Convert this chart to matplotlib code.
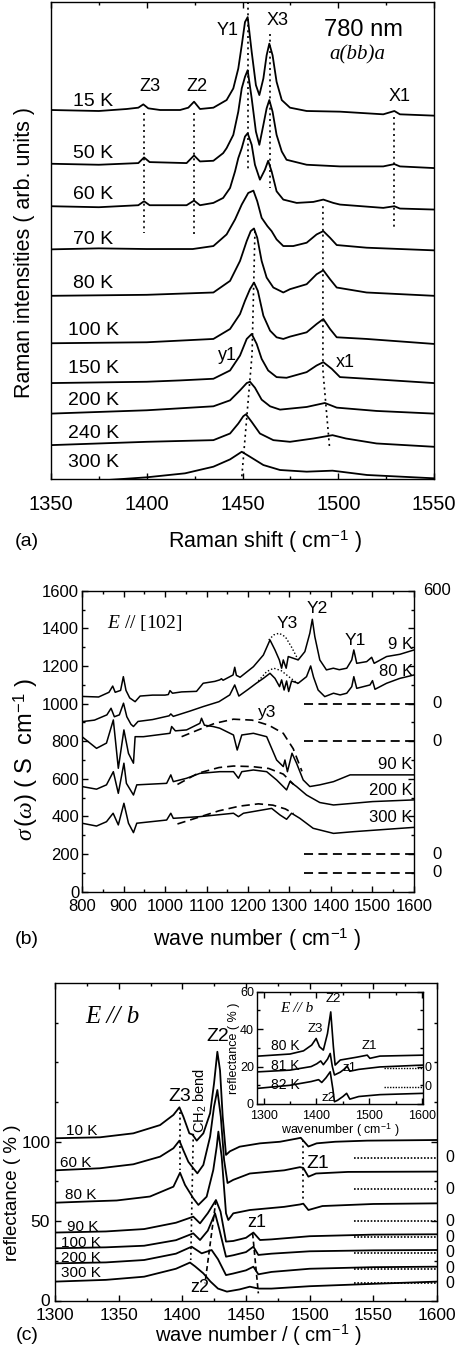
import matplotlib
matplotlib.use('Agg')
import matplotlib.pyplot as plt
from matplotlib.ticker import MultipleLocator, FixedLocator

plt.rcParams['font.family'] = ['Liberation Sans', 'DejaVu Sans']
plt.rcParams['mathtext.fontset'] = 'custom'
plt.rcParams['mathtext.rm'] = 'Liberation Sans'
plt.rcParams['mathtext.it'] = 'Liberation Serif:italic'
plt.rcParams['mathtext.bf'] = 'Liberation Sans:bold'

W, H = 456, 1357

# ---------------- (a) Raman, 780 nm, a(bb)a  (wavenumber, intensity arb.) ----------------
a_15K = [(1350, 1115), (1375, 1112), (1389.5, 1118), (1395.6, 1122), (1398.2, 1132), (1400.8, 1120),
         (1407, 1115), (1417.4, 1115), (1421.7, 1122), (1424.7, 1140), (1427.8, 1118), (1434.8, 1122),
         (1441.7, 1145), (1445.2, 1180), (1447.8, 1240), (1449.6, 1310), (1451.3, 1380), (1452.7, 1395),
         (1454.8, 1290), (1457, 1190), (1458.8, 1160), (1460.9, 1210), (1462.6, 1280), (1464, 1315),
         (1465.7, 1280), (1467.8, 1200), (1470.5, 1145), (1474.8, 1122), (1483.5, 1112), (1500.9, 1110),
         (1523.5, 1102), (1527, 1108), (1529.3, 1112), (1532.2, 1102), (1550, 1098)]
a_50K = [(1350, 953), (1375, 950), (1395.6, 955), (1398.6, 972), (1401.5, 958), (1420.8, 955),
         (1424.7, 978), (1427.8, 960), (1434.8, 962), (1439.9, 985), (1441.7, 1000), (1445.2, 1040),
         (1447.8, 1110), (1449.6, 1180), (1451.3, 1215), (1452.7, 1235), (1454.8, 1150), (1457, 1050),
         (1458.8, 1010), (1460.9, 1070), (1462.6, 1120), (1464, 1145), (1465.7, 1110), (1467.8, 1040),
         (1470.5, 990), (1473, 965), (1483.5, 950), (1500.9, 945), (1523.5, 945), (1529.3, 952),
         (1532.2, 945), (1550, 940)]
a_60K = [(1350, 825), (1375, 822), (1395.6, 828), (1398.6, 840), (1401.5, 828), (1420.8, 828),
         (1424.7, 842), (1427.8, 828), (1434.8, 835), (1439.9, 850), (1443.5, 880), (1446.1, 930),
         (1447.8, 970), (1449.6, 1000), (1451.3, 1035), (1452.7, 1045), (1454.8, 1010), (1456.5, 950),
         (1459.1, 905), (1461.7, 935), (1463.4, 962), (1465.2, 930), (1467.8, 870), (1471.3, 845),
         (1478.3, 835), (1487, 838), (1492.2, 845), (1497.4, 835), (1500.9, 830), (1523.5, 820),
         (1529.3, 825), (1532.2, 818), (1550, 815)]
a_70K = [(1350, 695), (1375, 698), (1400, 696), (1424, 696), (1434.8, 705), (1441.7, 740),
         (1446.1, 785), (1449.6, 830), (1453, 865), (1455.7, 872), (1457.7, 840), (1460, 790),
         (1463, 765), (1465.2, 750), (1467.8, 725), (1471.3, 705), (1476.5, 705), (1483.5, 715),
         (1488.7, 740), (1492.2, 750), (1495.7, 730), (1499.2, 708), (1514.8, 700), (1550, 692)]
a_80K = [(1350, 555), (1400, 558), (1434.8, 565), (1443.5, 600), (1448.7, 660), (1452.2, 720),
         (1454.3, 750), (1456, 758), (1457.7, 730), (1460, 660), (1462.6, 610), (1466.1, 580),
         (1469.6, 570), (1471.3, 565), (1474.8, 575), (1483.5, 590), (1488.7, 620), (1492.2, 632),
         (1495.7, 605), (1499.2, 580), (1514.8, 565), (1550, 555)]
a_100K = [(1350, 412), (1400, 415), (1434.8, 425), (1443.5, 455), (1448.7, 500), (1451.3, 540),
          (1453.9, 575), (1456, 595), (1458, 570), (1460.9, 495), (1464.4, 450), (1467.8, 430),
          (1471.3, 425), (1474.8, 432), (1483.5, 445), (1488.7, 470), (1492.2, 485), (1495.7, 455),
          (1499.2, 430), (1514.8, 425), (1550, 410)]
a_150K = [(1350, 292), (1400, 296), (1417.4, 300), (1434.8, 305), (1443.5, 330), (1448.7, 375),
          (1452.2, 425), (1454.8, 440), (1457.4, 410), (1460, 365), (1463.4, 330), (1467.8, 310),
          (1473, 308), (1483.5, 325), (1488.7, 345), (1492.2, 355), (1496.6, 335), (1500.9, 310),
          (1515, 305), (1550, 292)]
a_200K = [(1350, 200), (1400, 210), (1434.8, 222), (1443.5, 240), (1448.7, 270), (1452.2, 292),
          (1453.9, 296), (1456.5, 278), (1460, 242), (1464.4, 222), (1469.6, 212), (1483.5, 220),
          (1493, 232), (1499.2, 218), (1520, 208), (1550, 200)]
a_240K = [(1350, 105), (1400, 115), (1434.8, 120), (1443.5, 140), (1447.8, 170), (1450.4, 192),
          (1451.8, 198), (1454.8, 175), (1459.1, 140), (1466.1, 120), (1474.8, 115), (1487, 125),
          (1497, 135), (1504, 125), (1520, 110), (1550, 100)]
a_300K = [(1350, -5), (1380, 0), (1400, 8), (1420, 20), (1434.8, 40), (1443.5, 62), (1449.6, 85),
          (1453.9, 70), (1460.9, 45), (1469.6, 30), (1483.5, 25), (1497, 28), (1515, 15), (1550, 5)]
a_spectra = [a_15K, a_50K, a_60K, a_70K, a_80K, a_100K, a_150K, a_200K, a_240K, a_300K]
a_temps = ['15 K', '50 K', '60 K', '70 K', '80 K', '100 K', '150 K', '200 K', '240 K', '300 K']
a_temp_y = [1140, 984, 861, 726, 591, 450, 336, 240, 141, 54]

# ---------------- (b) optical conductivity E // [102]  (wavenumber, S/cm) ----------------
b_9K = [(800, 1038), (840, 1035), (865, 1060), (874, 1093), (880, 1060), (893, 1070), (899.6, 1143),
        (906, 1070), (915, 1030), (928, 1010), (940, 1040), (970, 1045), (1000, 1045), (1008, 1048),
        (1012, 1069), (1018, 1055), (1040, 1062), (1076, 1065), (1092, 1108), (1120, 1118), (1132, 1126),
        (1136, 1132), (1140, 1124), (1164, 1152), (1168, 1193), (1172, 1150), (1181, 1140), (1213, 1196),
        (1237, 1258), (1253, 1338), (1265, 1285), (1275.5, 1232), (1281, 1188), (1285, 1232), (1292, 1188),
        (1297, 1250), (1309, 1241), (1321, 1232), (1337, 1276), (1349, 1374), (1355, 1448), (1361, 1356),
        (1373, 1232), (1389, 1179), (1405.6, 1188), (1420, 1180), (1438, 1188), (1450, 1232), (1455, 1285),
        (1462, 1214), (1486, 1223), (1498, 1246), (1504, 1214), (1534, 1250), (1566, 1262), (1600, 1285)]
b_80K = [(800, 904), (830, 912), (860, 940), (870, 975), (878, 930), (890, 940), (900, 1002), (908, 930),
         (918, 890), (924, 878), (935, 905), (970, 915), (1010, 935), (1014, 945), (1020, 932), (1060, 960),
         (1092, 984), (1130, 1010), (1156, 1046), (1168, 1099), (1178, 1040), (1200, 1075), (1220, 1108),
         (1237, 1134), (1253, 1161), (1265, 1134), (1276, 1090), (1281, 1126), (1287, 1072), (1293, 1120),
         (1298, 1064), (1305, 1120), (1321, 1108), (1341, 1143), (1351, 1200), (1358, 1140), (1369, 1072),
         (1385, 1037), (1406, 1055), (1422, 1046), (1438, 1055), (1450, 1090), (1455, 1143), (1462, 1081),
         (1494, 1099), (1500, 1122), (1506, 1076), (1534, 1108), (1566, 1134), (1600, 1152)]
b_90K = [(800, 824), (835, 762), (859, 790), (875.5, 913), (887.5, 656), (901, 860), (912, 735),
         (924, 683), (928, 824), (948, 824), (1012, 842), (1016, 878), (1025, 855), (1052, 860),
         (1084, 895), (1088, 922), (1095, 885), (1116, 878), (1132, 869), (1165, 833), (1174, 753),
         (1185, 833), (1213, 842), (1245, 824), (1269, 700), (1285, 665), (1289, 700), (1295, 638),
         (1306, 736), (1317, 683), (1333, 594), (1349, 559), (1373, 568), (1406, 585), (1446, 621),
         (1500, 621), (1600, 621)]
b_200K = [(800, 559), (835, 545), (859, 568), (875.5, 638), (887.5, 523), (901, 683), (907, 576),
          (924, 514), (932, 568), (1004, 576), (1014, 621), (1020, 585), (1052, 603), (1084, 629),
          (1132, 638), (1165, 638), (1177, 603), (1185, 638), (1213, 647), (1245, 638), (1269, 594),
          (1293, 541), (1301, 585), (1317, 559), (1341, 514), (1373, 474), (1406, 461), (1454, 470),
          (1500, 479), (1600, 488)]
b_300K = [(800, 364), (835, 349), (859, 372), (875, 417), (887.5, 355), (901, 470), (912, 364),
          (924, 314), (932, 364), (1004, 381), (1014, 417), (1020, 390), (1084, 399), (1165, 417),
          (1177, 399), (1189, 417), (1257, 443), (1277, 408), (1293, 385), (1305, 417), (1325, 390),
          (1357, 337), (1406, 310), (1454, 319), (1600, 342)]
b_spectra = [b_9K, b_80K, b_90K, b_200K, b_300K]
b_temps = ['9 K', '80 K', '90 K', '200 K', '300 K']
b_temp_y = [1312, 1173, 674, 536, 392]
b_fit_y3_9K = [(1250, 1338), (1262, 1365), (1275, 1374), (1290, 1355), (1305, 1300), (1321, 1232)]
b_fit_y3_80K = [(1225, 1120), (1245, 1170), (1262, 1188), (1280, 1175), (1300, 1140), (1321, 1105)]
b_fit_90K = [(1040, 824), (1080, 860), (1120, 895), (1165, 917), (1210, 912), (1250, 885), (1285, 842),
             (1309, 760), (1330, 640)]
b_fit_200K = [(1030, 570), (1080, 630), (1130, 660), (1165, 668), (1210, 665), (1250, 655), (1285, 625),
              (1310, 570)]
b_fit_300K = [(1030, 360), (1080, 395), (1130, 430), (1180, 455), (1225, 467), (1260, 460), (1290, 440),
              (1310, 415)]
b_zero_levels = [1000, 800, 200, 100]

# ---------------- (c) reflectance E // b  (wavenumber, %) ----------------
c_10K = [(1300, 102.2), (1335.3, 102.8), (1361.5, 105.3), (1382.5, 110.5), (1393, 116.9), (1397.7, 121.7),
         (1400.8, 115.8), (1405.5, 105.3), (1408, 104.5), (1411.3, 100.7), (1416.5, 105.3), (1421.8, 117.9),
         (1424.9, 136.8), (1427.5, 156.7), (1429.6, 145), (1431.7, 115.8), (1434.3, 91.7), (1437.4, 94),
         (1445, 96.9), (1461, 99), (1476.7, 100), (1490, 102), (1493, 102.5), (1499, 97), (1505.5, 99),
         (1520, 100), (1545, 100.7), (1600, 101.1)]
c_60K = [(1300, 82), (1335.3, 83.3), (1361.5, 85.8), (1382.5, 90.6), (1393, 95.9), (1397.7, 100.7),
         (1400.8, 94.6), (1404.7, 87.4), (1408.6, 83.3), (1411.8, 80.1), (1416.5, 85.4), (1421.8, 103.2),
         (1424.9, 122.1), (1427.5, 132.6), (1430.2, 115.8), (1432.8, 88.5), (1435.5, 74), (1440, 76),
         (1453, 80), (1480, 82), (1492.4, 84), (1495, 83.5), (1499, 78), (1505, 80), (1530, 81), (1600, 81.2)]
c_80K = [(1300, 61.6), (1330, 62.5), (1348.4, 63), (1374.6, 65.5), (1393, 71.7), (1398.2, 80.5),
         (1402.1, 72.8), (1408.6, 64.4), (1412.6, 60.2), (1419.1, 65.4), (1424.3, 82.2), (1427, 96.9),
         (1428.3, 106.4), (1430.9, 90.6), (1434.3, 54.9), (1436.1, 50.7), (1440, 54.9), (1453, 57),
         (1480, 59), (1492.4, 60.5), (1495, 61), (1499, 57), (1510, 59.5), (1550, 60.8), (1600, 61.2)]
c_90K = [(1300, 42.8), (1340, 43.5), (1370, 45), (1395, 49), (1408.6, 52.8), (1413.9, 48.6), (1420, 55),
         (1426.4, 63.3), (1430, 56), (1434.3, 37.1), (1440, 37.5), (1450, 39.5), (1455.8, 42.8), (1461, 38.1),
         (1470, 38.5), (1500, 40.5), (1550, 41.5), (1600, 41.7)]
c_100K = [(1300, 32.9), (1340, 33.5), (1370, 34.5), (1395, 38), (1408.6, 42.3), (1413.9, 38.1), (1420, 44),
          (1425.7, 54.9), (1429, 45), (1434.3, 27.6), (1440, 28.5), (1450, 30.5), (1455.8, 33.9),
          (1459.7, 28.7), (1470, 29.5), (1500, 31), (1550, 31.6), (1600, 31.8)]
c_200K = [(1300, 23.4), (1340, 24), (1370, 25.5), (1395, 29.5), (1407.3, 33.9), (1415.2, 29.7), (1423, 31.8),
          (1428, 26), (1434.3, 16), (1440, 17), (1450, 19), (1455.8, 21.3), (1459.7, 16.5), (1470, 18),
          (1500, 20), (1550, 21), (1600, 21.3)]
c_300K = [(1300, 11.9), (1340, 13), (1370, 15), (1395, 20), (1406, 23.9), (1410, 21.5), (1416.5, 17.1),
          (1422, 12), (1428, 7.5), (1435, 5.6), (1445, 7), (1453, 8.7), (1460, 7.5), (1470, 7.5),
          (1500, 9), (1550, 10.5), (1600, 11.9)]
c_spectra = [c_10K, c_60K, c_80K, c_90K, c_100K, c_200K, c_300K]
c_temps = ['10 K', '60 K', '80 K', '90 K', '100 K', '200 K', '300 K']
c_temp_x = [1321, 1316, 1320, 1322, 1320, 1320, 1320]
c_temp_y = [107, 86.6, 66.5, 46.3, 36.2, 26.8, 17.3]
c_zero_levels = [90, 70, 50, 40, 30, 20, 11]

# inset of (c)
i_80K = [(1290.6, 25.6), (1350, 26.7), (1375.5, 28.4), (1391, 31.5), (1399.4, 35), (1405.7, 30.6),
         (1413, 28.8), (1420.8, 37.6), (1427, 49.2), (1432, 30.6), (1435.3, 20.8), (1445, 23.5),
         (1476, 25), (1496, 26.1), (1501, 24.4), (1520, 25.6), (1602, 26.1)]
i_81K = [(1290.6, 17.2), (1350, 18.1), (1390, 20), (1400.7, 21.5), (1408, 23), (1413, 21), (1421, 24),
         (1426, 27), (1430, 20), (1434, 15.5), (1445, 17), (1452, 18.5), (1458, 20.3), (1463, 17.5),
         (1480, 18.5), (1520, 19.8), (1602, 20.8)]
i_82K = [(1290.6, 8.4), (1350, 10), (1390, 12), (1404, 13), (1410, 11.5), (1418, 14), (1426, 17.2),
         (1431, 8), (1434, 1.2), (1440, 2), (1450, 4), (1457, 5.7), (1463, 2.6), (1480, 4), (1520, 5),
         (1602, 5.7)]
i_spectra = [i_80K, i_81K, i_82K]
i_temps = ['80 K', '81 K', '82 K']
i_temp_y = [30.9, 20.3, 10.1]
i_zero_levels = [19, 9.2]


def box(l, t, r, b):
    return [l / W, 1 - b / H, (r - l) / W, (b - t) / H]


def px(x, y):
    return x / W, 1 - y / H


def xy(points):
    return [p[0] for p in points], [p[1] for p in points]


def style(ax, size, xpad, ypad):
    ax.tick_params(which='both', direction='in', top=True, right=True, labelsize=size, width=1.0)
    ax.tick_params(axis='x', pad=xpad)
    ax.tick_params(axis='y', pad=ypad)
    ax.tick_params(which='major', length=4)
    ax.tick_params(which='minor', length=2.5)
    for s in ax.spines.values():
        s.set_linewidth(1.0)


fig = plt.figure(figsize=(W / 100, H / 100), dpi=100)
LW = 1.3
DOT = (0, (1.2, 2.2))

# ---------- panel (a) ----------
ax = fig.add_axes(box(51, 1.5, 434, 479.3))
for sp in a_spectra:
    x, y = xy(sp)
    ax.plot(x, y, color='black', lw=LW)
for t, ty in zip(a_temps, a_temp_y):
    ax.text(1372, ty, t, fontsize=14, ha='center', va='center')
ax.plot([1398.6, 1398.6], [1105, 745], color='black', lw=1.2, ls=DOT)
ax.plot([1424.7, 1424.7], [1105, 740], color='black', lw=1.2, ls=DOT)
ax.plot([1453, 1453], [1440, 930], color='black', lw=1.2, ls=DOT)
ax.plot([1464.4, 1464.4], [1345, 880], color='black', lw=1.2, ls=DOT)
ax.plot([1529.3, 1529.3], [1095, 755], color='black', lw=1.2, ls=DOT)
ax.plot([1456.5, 1455, 1449.5], [750, 380, 0], color='black', lw=1.2, ls=DOT)
ax.plot([1492, 1492, 1495.5], [825, 330, 95], color='black', lw=1.2, ls=DOT)
for lab, lx, ly in [('Y1', 1442.4, 1356), ('X3', 1468.5, 1386), ('Z3', 1401.7, 1185),
                    ('Z2', 1426.2, 1185), ('X1', 1532, 1155), ('y1', 1441.9, 375), ('x1', 1503.5, 354)]:
    ax.text(lx, ly, lab, fontsize=13, ha='center', va='center')
ax.text(1513, 1356, '780 nm', fontsize=17, ha='center', va='center')
ax.text(1510, 1281, 'a(bb)a', fontsize=15, ha='center', va='center',
        family='Liberation Serif', style='italic')
ax.set_xlim(1350, 1550)
ax.set_ylim(2, 1442)
ax.xaxis.set_major_locator(MultipleLocator(50))
ax.xaxis.set_minor_locator(MultipleLocator(25))
style(ax, 14.5, 11, 2)
ax.tick_params(axis='y', which='both', left=False, right=False, labelleft=False)
fig.text(*px(265, 542), 'Raman shift ( cm$^{-1}$ )', fontsize=15.5, ha='center', va='center')
fig.text(*px(27, 542), '(a)', fontsize=14, ha='center', va='center')
fig.text(*px(25, 253), 'Raman intensities ( arb. units )', fontsize=15.5, ha='center', va='center',
         rotation=90)

# ---------- panel (b) ----------
ax = fig.add_axes(box(82, 590.7, 414, 891.7))
for sp in b_spectra:
    x, y = xy(sp)
    ax.plot(x, y, color='black', lw=1.1)
for fit in [b_fit_y3_9K, b_fit_y3_80K]:
    x, y = xy(fit)
    ax.plot(x, y, color='black', lw=1.0, ls=(0, (1, 1.5)))
for fit in [b_fit_90K, b_fit_200K, b_fit_300K]:
    x, y = xy(fit)
    ax.plot(x, y, color='black', lw=1.2, ls=(0, (5, 3)))
for z in b_zero_levels:
    ax.plot([1335, 1600], [z, z], color='black', lw=1.3, ls=(0, (5, 3)))
    ax.text(1.07, z, '0', fontsize=12, ha='center', va='center', transform=ax.get_yaxis_transform())
ax.text(1.07, 1600, '600', fontsize=12, ha='center', va='center', transform=ax.get_yaxis_transform())
for t, ty in zip(b_temps, b_temp_y):
    ax.text(1597, ty, t, fontsize=12, ha='right', va='center')
for lab, lx, ly in [('Y3', 1294, 1424), ('Y2', 1366, 1503), ('Y1', 1458, 1333), ('y3', 1246, 950)]:
    ax.text(lx, ly, lab, fontsize=12.5, ha='center', va='center')
ax.text(860, 1429, '$E$ // [102]', fontsize=14, ha='left', va='center', family='Liberation Serif')
ax.set_xlim(800, 1600)
ax.set_ylim(0, 1600)
ax.xaxis.set_major_locator(MultipleLocator(100))
ax.xaxis.set_minor_locator(MultipleLocator(50))
ax.yaxis.set_major_locator(MultipleLocator(200))
ax.yaxis.set_minor_locator(MultipleLocator(100))
style(ax, 12, 5, 2)
fig.text(*px(257, 940), 'wave number ( cm$^{-1}$ )', fontsize=15.5, ha='center', va='center')
fig.text(*px(27, 940), '(b)', fontsize=14, ha='center', va='center')
fig.text(*px(26, 760), r'$\sigma\,(\omega)$ ( S  cm$^{-1}$ )', fontsize=17, ha='center', va='center',
         rotation=90)

# ---------- panel (c) ----------
ax = fig.add_axes(box(55, 983, 437, 1300.5))
for sp in c_spectra:
    x, y = xy(sp)
    ax.plot(x, y, color='black', lw=LW)
for t, tx, ty in zip(c_temps, c_temp_x, c_temp_y):
    ax.text(tx, ty, t, fontsize=11, ha='center', va='center')
for z in c_zero_levels:
    ax.plot([1535, 1600], [z, z], color='black', lw=1.2, ls=(0, (1, 1)))
    ax.text(1.034, z, '0', fontsize=11.5, ha='center', va='center', transform=ax.get_yaxis_transform())
ax.plot([1398, 1398], [119, 82], color='black', lw=1.2, ls=DOT)
ax.plot([1408.6, 1406.6], [105, 25.5], color='black', lw=1.2, ls=DOT)
ax.plot([1495, 1495], [101, 63], color='black', lw=1.2, ls=DOT)
ax.plot([1426.4, 1417.8], [63.3, 10.8], color='black', lw=1.2, ls=(0, (3, 2)))
ax.plot([1455.2, 1459.7], [42.3, 4.5], color='black', lw=1.2, ls=(0, (3, 2)))
for lab, lx, ly, fs in [('Z3', 1398.2, 128.2, 14), ('Z2', 1428, 166, 14), ('Z1', 1506.6, 86.6, 14),
                        ('z1', 1458.7, 49.4, 13), ('z2', 1414, 7.9, 13)]:
    ax.text(lx, ly, lab, fontsize=fs, ha='center', va='center')
ax.text(1414, 126.3, 'CH$_2$ bend', fontsize=10.5, ha='center', va='center', rotation=90)
ax.text(1323.6, 178.8, 'E // b', fontsize=18, ha='left', va='center',
        family='Liberation Serif', style='italic')
ax.set_xlim(1300, 1600)
ax.set_ylim(0, 200)
ax.xaxis.set_major_locator(MultipleLocator(50))
ax.xaxis.set_minor_locator(MultipleLocator(25))
ax.yaxis.set_major_locator(FixedLocator([0, 50, 100]))
ax.yaxis.set_minor_locator(FixedLocator([25, 75, 125, 150, 175]))
style(ax, 12.5, 5.5, 3.5)
fig.text(*px(258, 1335), 'wave number / ( cm$^{-1}$ )', fontsize=14.5, ha='center', va='center')
fig.text(*px(27, 1335), '(c)', fontsize=14, ha='center', va='center')
fig.text(*px(13, 1193), 'reflectance ( % )', fontsize=13.5, ha='center', va='center', rotation=90)

# ---------- inset ----------
ax = fig.add_axes(box(256.7, 991.7, 423.3, 1104))
for sp in i_spectra:
    x, y = xy(sp)
    ax.plot(x, y, color='black', lw=1.2)
for t, ty in zip(i_temps, i_temp_y):
    ax.text(1341, ty, t, fontsize=10, ha='center', va='center')
for z in i_zero_levels:
    ax.plot([1527, 1602], [z, z], color='black', lw=1.0, ls=(0, (1, 1)))
    ax.text(1.03, z, '0', fontsize=9, ha='center', va='center', transform=ax.get_yaxis_transform())
for lab, lx, ly in [('Z2', 1431.5, 56), ('Z3', 1397.5, 40), ('Z1', 1499.4, 30.9), ('z1', 1461.7, 19.2),
                    ('z2', 1422, 3.2)]:
    ax.text(lx, ly, lab, fontsize=9.5, ha='center', va='center')
ax.text(1363.6, 51.2, 'E // b', fontsize=11, ha='center', va='center',
        family='Liberation Serif', style='italic')
ax.set_xlim(1287, 1602)
ax.set_ylim(0, 60)
ax.xaxis.set_major_locator(MultipleLocator(100))
ax.xaxis.set_minor_locator(MultipleLocator(50))
ax.yaxis.set_major_locator(MultipleLocator(20))
ax.yaxis.set_minor_locator(MultipleLocator(10))
style(ax, 9, 4, 2)
ax.set_xlabel('wavenumber ( cm$^{-1}$ )', fontsize=9, labelpad=0)
ax.set_ylabel('reflectance ( % )', fontsize=9, labelpad=0)

fig.savefig('out.png', dpi=100)
